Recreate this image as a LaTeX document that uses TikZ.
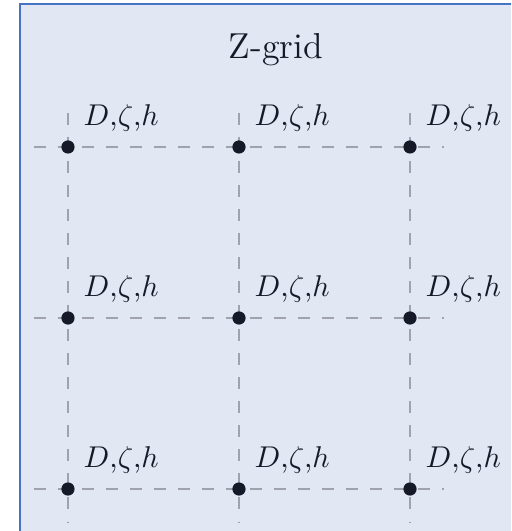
\documentclass[tikz,border=0pt]{standalone}
\definecolor{boxfill}{RGB}{225,231,243}
\definecolor{boxline}{RGB}{70,115,195}
\definecolor{gridline}{RGB}{160,163,173}
\definecolor{dotcol}{RGB}{22,26,40}
\begin{document}
\begin{tikzpicture}[
  gridpt/.style={circle, fill=dotcol, inner sep=0pt, minimum size=4.4pt,
    label={[text=dotcol, inner sep=3.33pt]above right:{$D$,$\zeta$,$h$}}},
  gridln/.style={gridline, dash pattern=on 4pt off 4pt, line width=0.9pt}
]
\useasboundingbox (-0.795,-4.491) rectangle (5.181,1.719);
\clip (-0.795,-4.491) rectangle (5.181,1.719);
\draw[boxline, fill=boxfill, line width=0.4pt] (-0.561,1.672) rectangle (5.45,-4.8);
\node[text=dotcol, font=\large, anchor=base] (title) at (2.43,1.03) {Z-grid};
% grid lines
\foreach \i in {0,1,2} {
  \coordinate (hl\i) at (-0.4,-2*\i);
  \coordinate (hr\i) at (4.4,-2*\i);
  \coordinate (vt\i) at (2*\i,0.4);
  \coordinate (vb\i) at (2*\i,-4.4);
  \draw[gridln] (hl\i) -- (hr\i);
  \draw[gridln] (vt\i) -- (vb\i);
}
\foreach \i in {0,1,2} {
  \foreach \j in {0,1,2} {
    \node[gridpt] (p\i\j) at (2*\i,-2*\j) {};
  }
}
\end{tikzpicture}
\end{document}
